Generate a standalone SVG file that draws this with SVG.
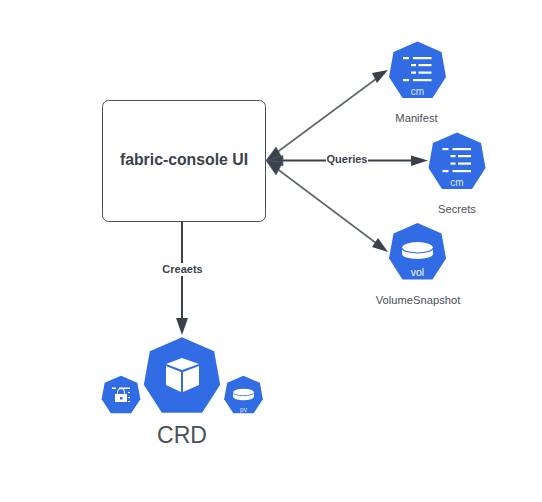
<svg xmlns="http://www.w3.org/2000/svg" width="542" height="502" viewBox="0 0 542 502">
<style>
.k{fill:#326ce5}
.w{fill:#fff}
.c{stroke:#5e6670;stroke-width:1.6;fill:none}
.d{stroke:#3a414a;stroke-width:2;fill:none}
.h{fill:#3a414a}
.s{stroke:#5e6670;stroke-width:.6}
text{font-family:"Liberation Sans",Arial,sans-serif}
.lb{font-size:11.2px;fill:#4a5058;text-anchor:middle}
.ic{font-size:10px;fill:#dfe8fb;text-anchor:middle}
.el{font-size:11px;font-weight:bold;fill:#3a414a;text-anchor:middle}
</style>
<defs>
<g id="list">
<rect x="-14.5" y="-14" width="6" height="2.200" class="w"/><rect x="-4.500" y="-14" width="18.500" height="2.200" class="w"/>
<rect x="-6.500" y="-7" width="5" height="2.200" class="w"/><rect x="1" y="-7" width="13" height="2.200" class="w"/>
<rect x="-6.500" y="0.500" width="5" height="2.200" class="w"/><rect x="1" y="0.500" width="13" height="2.200" class="w"/>
<rect x="-14.5" y="8" width="6" height="2.200" class="w"/><rect x="-4.500" y="8" width="18.500" height="2.200" class="w"/>
</g>
<polygon id="hep" points="0,-29 24,-18.500 28.500,6.500 15,27.500 -15,27.500 -28.500,6.500 -24,-18.500"/>
</defs>
<g id="connectors">
<line class="c" x1="268" y1="159" x2="380" y2="76"/>
<polygon class="h" points="388,70 377,83 372,73"/>
<line class="d" x1="270" y1="160.500" x2="415" y2="160.500"/>
<polygon class="h" points="428,160.500 411,155.500 411,166"/>
<line class="c" x1="268" y1="162" x2="380" y2="246"/>
<polygon class="h" points="388,252 372,247 378,238"/>
<polygon class="h s" points="266,160.500 276,147 283,159"/>
<polygon class="h s" points="266,160.500 283,155.500 283,166"/>
<polygon class="h s" points="266,160.500 283,162 276,175"/>
<line class="d" x1="182" y1="221" x2="182" y2="322"/>
<polygon class="h" points="182,335 176,318 188,318"/>
</g>
<g id="ui">
<rect x="102.500" y="100.500" width="163" height="121" rx="6" fill="#fff" stroke="#4a5058" stroke-width="1"/>
<text x="184" y="165" font-size="15.800px" font-weight="bold" fill="#3a414a" text-anchor="middle">fabric-console UI</text>
</g>
<g id="manifest">
<use href="#hep" class="k" transform="translate(417.500,70.500)"/>
<use href="#list" transform="translate(417.500,71)"/>
<text class="ic" x="417.500" y="95">cm</text>
<text class="lb" x="416.500" y="122">Manifest</text>
</g>
<g id="secrets">
<use href="#hep" class="k" transform="translate(457,161.500)"/>
<use href="#list" transform="translate(457,162)"/>
<text class="ic" x="457" y="186">cm</text>
<text class="lb" x="457" y="213">Secrets</text>
</g>
<g id="volumesnapshot">
<use href="#hep" class="k" transform="translate(417.500,252)"/>
<path class="w" d="M402 248a15.500 6 0 0 1 31 0v6a15.500 5 0 0 1-31 0z"/>
<path d="M402 248a15.500 5 0 0 0 31 0" fill="none" stroke="#326ce5" stroke-width="1.200"/>
<text x="417.500" y="276" font-size="10.500px" fill="#fff" text-anchor="middle">vol</text>
<text class="lb" x="418" y="304">VolumeSnapshot</text>
</g>
<g id="crd">
<use href="#hep" class="k" transform="translate(182,376) scale(1.340)"/>
<polygon class="w" points="182,358 199,364 182,370 166,364"/>
<polygon class="w" points="166,366 181,372 181,392 166,385"/>
<polygon class="w" points="183,372 199,366 199,385 183,392"/>
<text x="182" y="443" font-size="23px" fill="#4a5058" text-anchor="middle">CRD</text>
</g>
<g id="secret-small">
<use href="#hep" class="k" transform="translate(121,395) scale(.68,.66)"/>
<rect x="112" y="387.500" width="4" height="1.500" class="w"/><rect x="119" y="387.500" width="11" height="1.500" class="w"/>
<rect x="115" y="394" width="12" height="8" class="w"/>
<path d="M117.500 394v-2a3.500 3.500 0 0 1 7 0v2" fill="none" stroke="#fff" stroke-width="1"/>
<rect x="120" y="397" width="2.500" height="2.500" fill="#326ce5"/>
<rect x="128" y="392" width="2" height="1" class="w"/><rect x="128" y="397" width="2" height="1" class="w"/><rect x="128" y="401" width="2" height="1" class="w"/>
</g>
<g id="pv">
<use href="#hep" class="k" transform="translate(243.500,395) scale(.68,.66)"/>
<path class="w" d="M233 392.500a10.500 3.800 0 0 1 21 0v4a10.500 3.800 0 0 1-21 0z"/>
<path d="M233 392.500a10.500 3.200 0 0 0 21 0" fill="none" stroke="#326ce5" stroke-width=".8"/>
<text x="243.500" y="411.500" font-size="6.500px" fill="#dfe8fb" text-anchor="middle">pv</text>
</g>
<g id="labels">
<rect x="326" y="154" width="42" height="11" fill="#fff"/>
<text class="el" x="347" y="163">Queries</text>
<rect x="161" y="263" width="43" height="13" fill="#fff"/>
<text class="el" x="182.500" y="273">Creaets</text>
</g>
</svg>
